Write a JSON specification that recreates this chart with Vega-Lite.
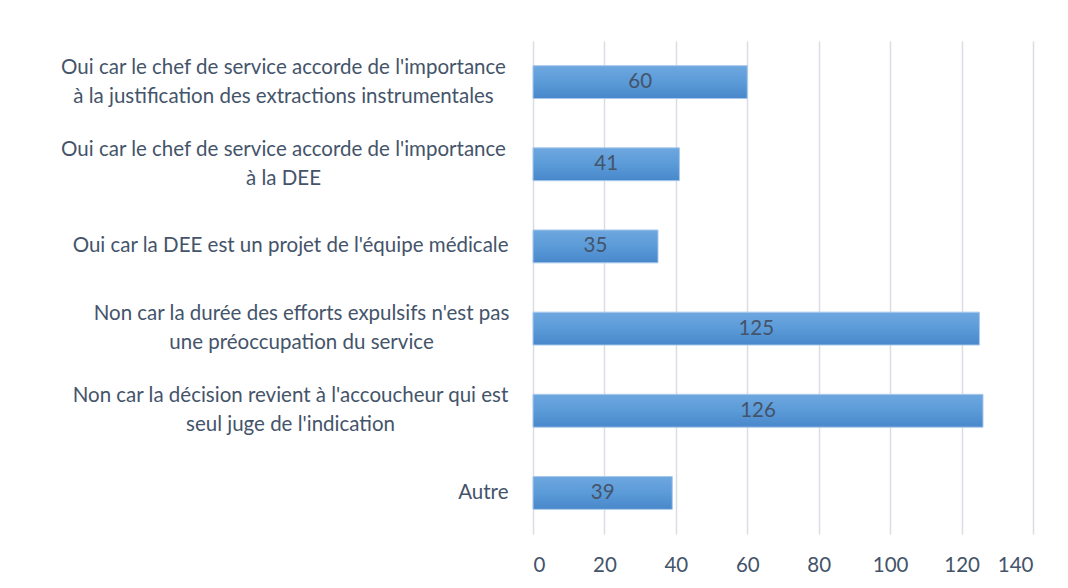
{
  "$schema": "https://vega.github.io/schema/vega-lite/v6.json",
  "autosize": {"type": "none"},
  "width": 500,
  "height": 493,
  "padding": {"left": 533, "top": 41, "right": 35, "bottom": 54},
  "background": "white",
  "config": {
    "view": {"stroke": null},
    "font": "Lato"
  },
  "data": {
    "values": [
      {"categorie": "Oui car le chef de service accorde de l'importance\nà la justification des extractions instrumentales", "valeur": 60},
      {"categorie": "Oui car le chef de service accorde de l'importance\nà la DEE", "valeur": 41},
      {"categorie": "Oui car la DEE est un projet de l'équipe médicale", "valeur": 35},
      {"categorie": "Non car la durée des efforts expulsifs n'est pas\nune préoccupation du service", "valeur": 125},
      {"categorie": "Non car la décision revient à l'accoucheur qui est\nseul juge de l'indication", "valeur": 126},
      {"categorie": "Autre", "valeur": 39}
    ]
  },
  "transform": [{"calculate": "datum.valeur / 2", "as": "milieu"}],
  "encoding": {
    "y": {
      "field": "categorie",
      "type": "nominal",
      "sort": null,
      "scale": {"paddingInner": 0.6, "paddingOuter": 0.3},
      "axis": {
        "title": null,
        "domain": false,
        "ticks": false,
        "labelExpr": "split(datum.label, '\\n')",
        "labelFont": "Lato",
        "labelFontSize": 20.5,
        "labelColor": "#44546a",
        "labelAlign": {"condition": {"test": "indexof(datum.label, '\\n') >= 0", "value": "center"}, "value": "right"},
        "labelPadding": {"condition": [
          {"test": "indexof(datum.label, 'décision') >= 0", "value": 243},
          {"test": "indexof(datum.label, 'durée') >= 0", "value": 232},
          {"test": "indexof(datum.label, '\\n') >= 0", "value": 250}
        ], "value": 25},
        "labelOffset": {"condition": {"test": "indexof(datum.label, '\\n') >= 0", "value": -14.5}, "value": 0},
        "labelLineHeight": 29,
        "labelLimit": 600
      }
    }
  },
  "layer": [
    {
      "mark": {
        "type": "bar",
        "stroke": "#a9c9ec",
        "strokeWidth": 1,
        "color": {
          "gradient": "linear",
          "x1": 0, "y1": 0, "x2": 0, "y2": 1,
          "stops": [
            {"offset": 0, "color": "#6ea7e0"},
            {"offset": 0.5, "color": "#5b9bd8"},
            {"offset": 1, "color": "#4887ca"}
          ]
        }
      },
      "encoding": {
        "x": {
          "field": "valeur",
          "type": "quantitative",
          "scale": {"domain": [0, 140], "nice": false},
          "axis": {
            "title": null,
            "values": [0, 20, 40, 60, 80, 100, 120, 140],
            "domain": false,
            "ticks": false,
            "grid": true,
            "gridColor": "#d9dde3",
            "gridWidth": 1.5,
            "labelFont": "Lato",
            "labelFontSize": 20.5,
            "labelColor": "#44546a",
            "labelPadding": 21
          }
        }
      }
    },
    {
      "mark": {"type": "text", "font": "Lato", "fontSize": 20.5, "color": "#44546a", "align": "center", "baseline": "middle"},
      "encoding": {
        "x": {"field": "milieu", "type": "quantitative"},
        "text": {"field": "valeur", "type": "quantitative"}
      }
    }
  ]
}
